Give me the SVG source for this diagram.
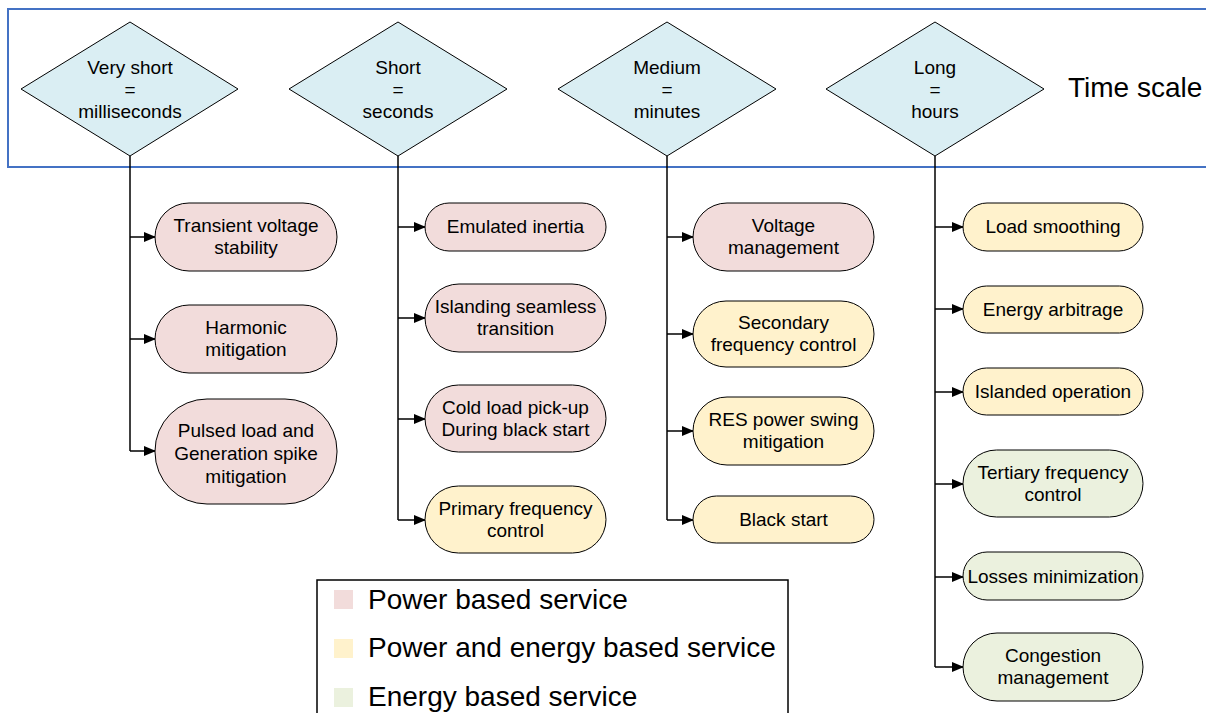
<svg xmlns="http://www.w3.org/2000/svg" width="1206" height="713" viewBox="0 0 1206 713">
<defs>
<style>
text{font-family:"Liberation Sans",Arial,sans-serif;fill:#000;}
.t{font-size:19px;text-anchor:middle;}
.dia{fill:#DAEEF3;stroke:#000;stroke-width:1;}
.n{stroke:#000;stroke-width:1;}
.p{fill:#F2DCDB;}
.y{fill:#FFF2CC;}
.g{fill:#EBF1DE;}
.ln{fill:none;stroke:#000;stroke-width:1.5;}
.lg{font-size:28px;}
</style>
<marker id="ah" markerWidth="12" markerHeight="10" refX="11" refY="5" orient="auto" markerUnits="userSpaceOnUse">
<path d="M0,0 L12,5 L0,10 Z" fill="#000"/>
</marker>
</defs>
<rect width="1206" height="713" fill="#fff"/>
<rect id="timescale-box" x="8" y="9" width="1210" height="158" fill="none" stroke="#4472C4" stroke-width="2"/>
<text x="1068" y="97" class="lg">Time scale</text>

<g id="connectors">
<path class="ln" d="M130,156 V451"/>
<path class="ln" d="M130,237 H155" marker-end="url(#ah)"/>
<path class="ln" d="M130,339 H155" marker-end="url(#ah)"/>
<path class="ln" d="M130,451 H155" marker-end="url(#ah)"/>
<path class="ln" d="M398,156 V520"/>
<path class="ln" d="M398,227 H425" marker-end="url(#ah)"/>
<path class="ln" d="M398,318 H425" marker-end="url(#ah)"/>
<path class="ln" d="M398,419 H425" marker-end="url(#ah)"/>
<path class="ln" d="M398,520 H425" marker-end="url(#ah)"/>
<path class="ln" d="M667,156 V520"/>
<path class="ln" d="M667,237 H693" marker-end="url(#ah)"/>
<path class="ln" d="M667,334 H693" marker-end="url(#ah)"/>
<path class="ln" d="M667,431 H693" marker-end="url(#ah)"/>
<path class="ln" d="M667,520 H693" marker-end="url(#ah)"/>
<path class="ln" d="M935,156 V667"/>
<path class="ln" d="M935,227 H963" marker-end="url(#ah)"/>
<path class="ln" d="M935,309 H963" marker-end="url(#ah)"/>
<path class="ln" d="M935,392 H963" marker-end="url(#ah)"/>
<path class="ln" d="M935,484 H963" marker-end="url(#ah)"/>
<path class="ln" d="M935,577 H963" marker-end="url(#ah)"/>
<path class="ln" d="M935,667 H963" marker-end="url(#ah)"/>
</g>

<g id="d-very-short">
<polygon class="dia" points="21,89 130,22 238,89 130,156"/>
<text class="t" x="130" y="74">Very short</text>
<text class="t" x="130" y="96">=</text>
<text class="t" x="130" y="118">milliseconds</text>
</g>
<g id="d-short">
<polygon class="dia" points="289,89 398,22 507,89 398,156"/>
<text class="t" x="398" y="74">Short</text>
<text class="t" x="398" y="96">=</text>
<text class="t" x="398" y="118">seconds</text>
</g>
<g id="d-medium">
<polygon class="dia" points="558,89 667,22 776,89 667,156"/>
<text class="t" x="667" y="74">Medium</text>
<text class="t" x="667" y="96">=</text>
<text class="t" x="667" y="118">minutes</text>
</g>
<g id="d-long">
<polygon class="dia" points="826,89 935,22 1044,89 935,156"/>
<text class="t" x="935" y="74">Long</text>
<text class="t" x="935" y="96">=</text>
<text class="t" x="935" y="118">hours</text>
</g>

<g id="n-transient">
<rect class="n p" x="155" y="203" width="182" height="68" rx="34"/>
<text class="t" x="246" y="232">Transient voltage</text>
<text class="t" x="246" y="254">stability</text>
</g>
<g id="n-harmonic">
<rect class="n p" x="155" y="305" width="182" height="68" rx="34"/>
<text class="t" x="246" y="334">Harmonic</text>
<text class="t" x="246" y="356">mitigation</text>
</g>
<g id="n-pulsed">
<rect class="n p" x="155" y="399" width="182" height="105" rx="52"/>
<text class="t" x="246" y="437">Pulsed load and</text>
<text class="t" x="246" y="460">Generation spike</text>
<text class="t" x="246" y="483">mitigation</text>
</g>

<g id="n-emulated">
<rect class="n p" x="425" y="203" width="181" height="48" rx="24"/>
<text class="t" x="515.5" y="233">Emulated inertia</text>
</g>
<g id="n-islanding">
<rect class="n p" x="425" y="284" width="181" height="68" rx="34"/>
<text class="t" x="515.5" y="313">Islanding seamless</text>
<text class="t" x="515.5" y="335">transition</text>
</g>
<g id="n-cold">
<rect class="n p" x="425" y="385" width="181" height="67" rx="33.5"/>
<text class="t" x="515.5" y="414">Cold load pick-up</text>
<text class="t" x="515.5" y="436">During black start</text>
</g>
<g id="n-primary">
<rect class="n y" x="425" y="486" width="181" height="67" rx="33.5"/>
<text class="t" x="515.5" y="515">Primary frequency</text>
<text class="t" x="515.5" y="537">control</text>
</g>

<g id="n-voltage">
<rect class="n p" x="693" y="203" width="181" height="68" rx="34"/>
<text class="t" x="783.5" y="232">Voltage</text>
<text class="t" x="783.5" y="254">management</text>
</g>
<g id="n-secondary">
<rect class="n y" x="693" y="301" width="181" height="66" rx="33"/>
<text class="t" x="783.5" y="329">Secondary</text>
<text class="t" x="783.5" y="351">frequency control</text>
</g>
<g id="n-res">
<rect class="n y" x="693" y="397" width="181" height="68" rx="34"/>
<text class="t" x="783.5" y="426">RES power swing</text>
<text class="t" x="783.5" y="448">mitigation</text>
</g>
<g id="n-black">
<rect class="n y" x="693" y="496" width="181" height="47" rx="23.5"/>
<text class="t" x="783.5" y="526">Black start</text>
</g>

<g id="n-load">
<rect class="n y" x="963" y="203" width="180" height="48" rx="24"/>
<text class="t" x="1053" y="233">Load smoothing</text>
</g>
<g id="n-arbitrage">
<rect class="n y" x="963" y="286" width="180" height="47" rx="23.5"/>
<text class="t" x="1053" y="316">Energy arbitrage</text>
</g>
<g id="n-islanded">
<rect class="n y" x="963" y="368" width="180" height="47" rx="23.5"/>
<text class="t" x="1053" y="398">Islanded operation</text>
</g>
<g id="n-tertiary">
<rect class="n g" x="963" y="450" width="180" height="67" rx="33.5"/>
<text class="t" x="1053" y="479">Tertiary frequency</text>
<text class="t" x="1053" y="501">control</text>
</g>
<g id="n-losses">
<rect class="n g" x="963" y="552" width="180" height="48" rx="24"/>
<text class="t" x="1053" y="583">Losses minimization</text>
</g>
<g id="n-congestion">
<rect class="n g" x="963" y="633" width="180" height="68" rx="34"/>
<text class="t" x="1053" y="662">Congestion</text>
<text class="t" x="1053" y="684">management</text>
</g>

<g id="legend">
<rect x="317" y="580" width="471" height="145" fill="#fff" stroke="#000" stroke-width="1.5"/>
<rect class="p" x="334" y="590" width="19" height="19"/>
<text class="lg" x="368" y="609">Power based service</text>
<rect class="y" x="334" y="639" width="19" height="19"/>
<text class="lg" x="368" y="657">Power and energy based service</text>
<rect class="g" x="334" y="688" width="19" height="19"/>
<text class="lg" x="368" y="706">Energy based service</text>
</g>
</svg>
